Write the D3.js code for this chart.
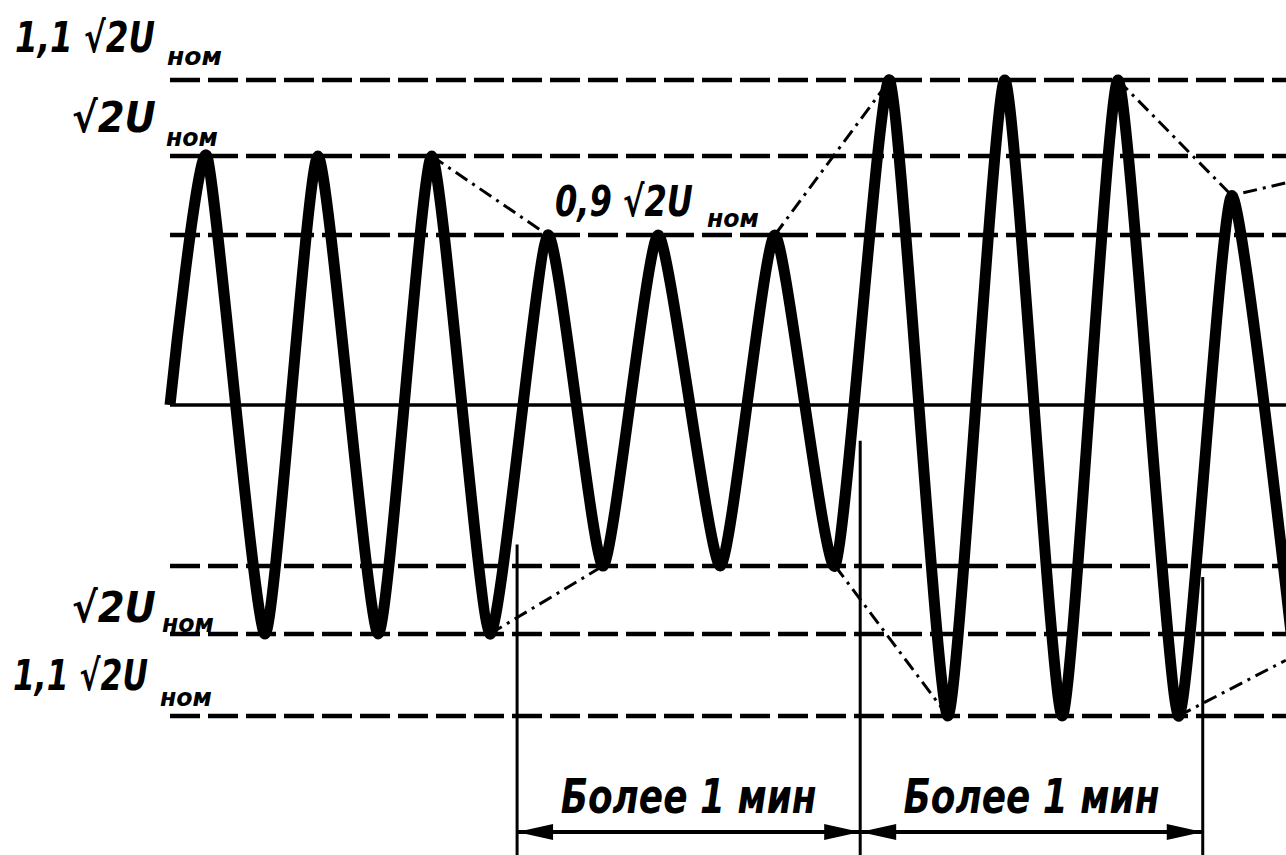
<!DOCTYPE html>
<html>
<head>
<meta charset="utf-8">
<script src="https://cdn.jsdelivr.net/npm/d3@7.9.0/dist/d3.min.js"></script>
<style>
  html, body { margin: 0; padding: 0; background: #fff; }
  svg { display: block; }
  text { font-family: "DejaVu Sans", sans-serif; font-weight: bold; font-style: italic; fill: #000; }
</style>
</head>
<body>
<div id="chart"></div>
<script>
// levels, in parts of √2·U_ном (0 = baseline)
const levels = [1.1, 1.0, 0.9, -0.9, -1.0, -1.1];

// turning points of the voltage curve: time (half periods) and value
const waveT = [0, 0.65, 1.67, 2.60, 3.66, 4.60, 5.62, 6.64, 7.61, 8.58, 9.67, 10.63, 11.69, 12.65, 13.67, 14.67, 15.68, 16.66, 17.72, 18.66, 19.80];
const waveV = [0, 1.0, -1.0, 1.0, -1.0, 1.0, -1.0, 0.9, -0.9, 0.9, -0.9, 0.9, -0.9, 1.1, -1.1, 1.1, -1.1, 1.1, -1.1, 0.95, -1.06];

// dash-dot envelope pieces [time, value]
const envelopes = [
  [[4.60, 1.0], [6.64, 0.9]],
  [[10.63, 0.9], [12.65, 1.1]],
  [[16.66, 1.1], [18.66, 0.95], [19.61, 0.966]],
  [[5.62, -1.0], [7.61, -0.9]],
  [[11.69, -0.9], [13.67, -1.1]],
  [[17.72, -1.1], [19.61, -1.032]]
];

// level labels
const labelLevel = [1.1, 1.0, 0.9, -1.0, -1.1];
const labelMain = ["1,1 √2U", "√2U", "0,9 √2U", "√2U", "1,1 √2U"];
const labelSub = "ном";

// time marks for the "more than 1 min" spans
const markT = [6.10, 12.13, 18.15];
const markFromV = [-0.78, -0.2, -0.916];
const spanText = ["Более 1 мин", "Более 1 мин"];

const W = 1286, H = 855;

const svg = d3.select("#chart").append("svg")
  .attr("width", W)
  .attr("height", H);

// time -> px, value -> px (scan is not symmetric, so piecewise)
const x = d3.scaleLinear().domain([0, 20]).range([170, 1308]);
const y = d3.scaleLinear()
  .domain([-1.1, -1.0, -0.9, 0, 0.9, 1.0, 1.1])
  .range([716, 634, 566, 405, 235, 156, 80]);

// narrow drafting-style text: squeeze to a given width
function fitText(sel, str, x0, yb, size, width) {
  const t = sel.append("text").attr("font-size", size).text(str);
  const w = t.node().getComputedTextLength();
  t.attr("transform", `translate(${x0},${yb}) scale(${width / w},1)`);
  return t;
}

// dashed level lines
svg.selectAll("line.level")
  .data(levels)
  .join("line")
  .attr("class", "level")
  .attr("x1", x(0)).attr("x2", W)
  .attr("y1", d => y(d)).attr("y2", d => y(d))
  .attr("stroke", "#000")
  .attr("stroke-width", 4.5)
  .attr("stroke-dasharray", "30,8");

// baseline
svg.append("line")
  .attr("x1", x(0)).attr("x2", W)
  .attr("y1", y(0)).attr("y2", y(0))
  .attr("stroke", "#000")
  .attr("stroke-width", 3.5);

// envelopes
const envLine = d3.line().x(d => x(d[0])).y(d => y(d[1]));
svg.selectAll("path.env")
  .data(envelopes)
  .join("path")
  .attr("class", "env")
  .attr("d", envLine)
  .attr("fill", "none")
  .attr("stroke", "#000")
  .attr("stroke-width", 3)
  .attr("stroke-dasharray", "14,6,3,6");

// extension lines
const dimY = 832;
svg.selectAll("line.ext")
  .data(markT)
  .join("line")
  .attr("class", "ext")
  .attr("x1", d => x(d)).attr("x2", d => x(d))
  .attr("y1", (d, i) => y(markFromV[i]))
  .attr("y2", H)
  .attr("stroke", "#000")
  .attr("stroke-width", 3);

// the wave itself
const wave = waveT.map((t, i) => [t, waveV[i]]);
svg.append("path")
  .datum(wave)
  .attr("d", d3.line().x(d => x(d[0])).y(d => y(d[1])).curve(d3.curveCardinal.tension(0.45)))
  .attr("fill", "none")
  .attr("stroke", "#000")
  .attr("stroke-width", 11)
  .attr("stroke-linejoin", "round");

// dimension lines with arrows
const spans = d3.pairs(markT);
const dim = svg.append("g");
spans.forEach(([a, b], i) => {
  const xa = x(a), xb = x(b);
  dim.append("line")
    .attr("x1", xa).attr("x2", xb)
    .attr("y1", dimY).attr("y2", dimY)
    .attr("stroke", "#000").attr("stroke-width", 4);
  const aLen = 36, aHalf = 8;
  dim.append("path")
    .attr("d", `M${xa},${dimY} L${xa + aLen},${dimY - aHalf} L${xa + aLen},${dimY + aHalf} Z`);
  dim.append("path")
    .attr("d", `M${xb},${dimY} L${xb - aLen},${dimY - aHalf} L${xb - aLen},${dimY + aHalf} Z`);
  fitText(dim, spanText[i], (xa + xb) / 2 - 128, 813, 48, 256);
});

// level labels: x0, width, baseline offset for main part and subscript
const labelPos = [
  { mx: 15, mw: 140, my: -28, sx: 167, sw: 55, sy: -15 },
  { mx: 72, mw: 84, my: -24, sx: 166, sw: 52, sy: -10 },
  { mx: 555, mw: 138, my: -19, sx: 707, sw: 52, sy: -8 },
  { mx: 72, mw: 84, my: -12, sx: 162, sw: 52, sy: -2 },
  { mx: 13, mw: 135, my: -26, sx: 160, sw: 52, sy: -10 }
];
labelLevel.forEach((lv, i) => {
  const p = labelPos[i];
  fitText(svg, labelMain[i], p.mx, y(lv) + p.my, 42, p.mw);
  fitText(svg, labelSub, p.sx, y(lv) + p.sy, 25, p.sw);
});
</script>
</body>
</html>
